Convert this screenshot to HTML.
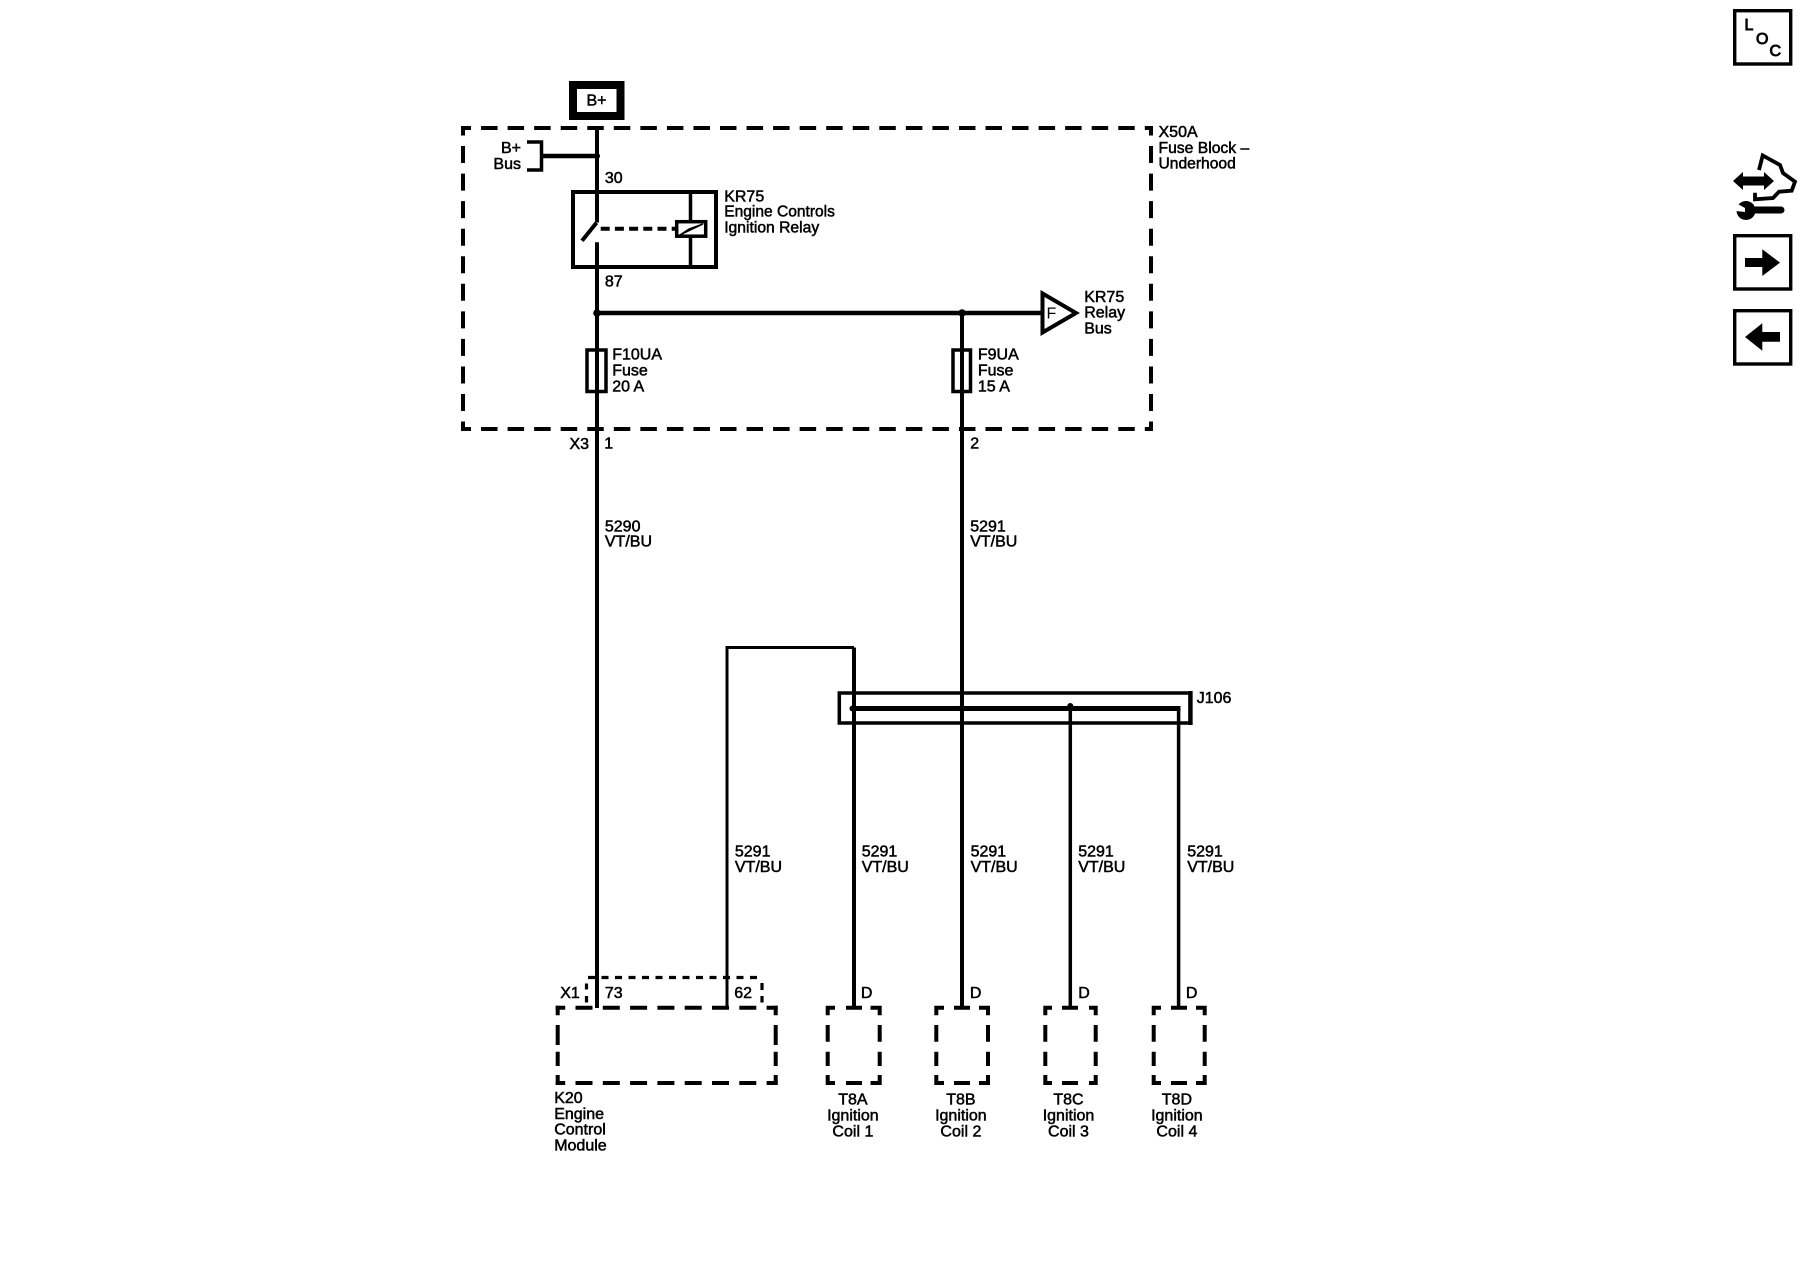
<!DOCTYPE html>
<html>
<head>
<meta charset="utf-8">
<title>Ignition Relay Schematic</title>
<style>
html,body{margin:0;padding:0;background:#fff;width:1800px;height:1280px;overflow:hidden}
svg{display:block}
text{font-family:"Liberation Sans",sans-serif;font-size:16px;fill:#000;stroke:#000;stroke-width:.5px}
.m{text-anchor:middle}
.e{text-anchor:end}
.b{stroke-width:.9px}
</style>
</head>
<body>
<svg width="1800" height="1280" viewBox="0 0 1800 1280" xmlns="http://www.w3.org/2000/svg">
<rect width="1800" height="1280" fill="#fff"/>

<!-- B+ box -->
<rect x="573" y="85" width="47.5" height="31" fill="#fff" stroke="#000" stroke-width="8"/>
<text x="586.5" y="105.5">B+</text>

<!-- X50A dashed enclosure -->
<g fill="none" stroke="#000" stroke-width="4">
<path d="M461 128H1153" stroke-dasharray="16.5 10.05" stroke-dashoffset="6.5"/>
<path d="M461 429H1153" stroke-dasharray="16.5 10.05" stroke-dashoffset="6.5"/>
<path d="M463 126V431" stroke-dasharray="17 10.55" stroke-dashoffset="7.5"/>
<path d="M1151 126V431" stroke-dasharray="17 10.55" stroke-dashoffset="7.5"/>
</g>

<!-- main wires -->
<g fill="none" stroke="#000" stroke-width="4">
<path d="M597 128V222.5"/>
<path d="M597 242.3V1008"/>
<path d="M962 313V1008"/>
<path d="M597 313H1043" stroke-width="4.5"/>
<path d="M543 156H597" stroke-width="4.5"/>
<path d="M527 142H541.5V170H527" stroke-width="3.5"/>
<path d="M854 647.5V1008" stroke-width="4"/>
<path d="M727 1008V647.5H854" stroke-width="3"/>
<path d="M1070.3 708.5V1008" stroke-width="3.5"/>
<path d="M1178.6 708.5V1008" stroke-width="3.5"/>
</g>
<circle cx="597" cy="156" r="3" fill="#000"/>
<circle cx="597" cy="313" r="3.8" fill="#000"/>
<circle cx="962" cy="313" r="3.8" fill="#000"/>

<!-- relay -->
<rect x="573" y="192" width="143" height="75" fill="none" stroke="#000" stroke-width="4"/>
<path d="M690.5 192V221M690.5 237V267" stroke="#000" stroke-width="3.5" fill="none"/>
<path d="M596.5 222.7L582 240.7" stroke="#000" stroke-width="4" fill="none"/>
<path d="M600.7 228.7H676" stroke="#000" stroke-width="4" stroke-dasharray="9 5.2" fill="none"/>
<rect x="676.7" y="221.7" width="29" height="14.5" fill="#fff" stroke="#000" stroke-width="3.5"/>
<polygon points="680,235 703,224 689,229" fill="#000" stroke="#000" stroke-width="1.5"/>

<!-- triangle -->
<polygon points="1042.5,293.5 1042.5,332.5 1076,313" fill="#fff" stroke="#000" stroke-width="4"/>
<text x="1046.5" y="318.5" style="stroke-width:0">F</text>

<!-- fuses -->
<rect x="587" y="350" width="19" height="41.5" fill="none" stroke="#000" stroke-width="3.5"/>
<rect x="953" y="350" width="17.5" height="41.5" fill="none" stroke="#000" stroke-width="3.5"/>

<!-- J106 splice -->
<rect x="839.3" y="693" width="350.7" height="30" fill="none" stroke="#000" stroke-width="3.5"/>
<path d="M1190.5 691V725" stroke="#000" stroke-width="4.3"/>
<path d="M852 708.5H1180.5" stroke="#000" stroke-width="5"/>
<circle cx="852.5" cy="708.5" r="3" fill="#000"/>
<circle cx="962" cy="708.5" r="3.5" fill="#000"/>
<circle cx="1070.3" cy="706" r="3" fill="#000"/>

<!-- X1 small dashed -->
<g fill="none" stroke="#000" stroke-width="3.2">
<path d="M588 977.5H762" stroke-dasharray="7 6.5"/>
<path d="M586.5 983.5V989.5M586.5 996V1002.5M762 983V990M762 996V1002.5"/>
</g>

<!-- K20 dashed box -->
<g fill="none" stroke="#000" stroke-width="4">
<path d="M555.7 1007.7H777.7" stroke-dasharray="17 10.3" stroke-dashoffset="7.5"/>
<path d="M555.7 1083H777.7" stroke-dasharray="17 10.3" stroke-dashoffset="7.5"/>
<path d="M557.7 1005.7V1015.3M557.7 1025V1045M557.7 1051.7V1066M557.7 1075V1085"/>
<path d="M775.7 1005.7V1015.3M775.7 1025V1045M775.7 1051.7V1066M775.7 1075V1085"/>

<!-- Coil boxes -->
<path d="M835 1007.7H827.7V1015.3M827.7 1025V1041.7M827.7 1051.7V1066M827.7 1075V1083H835M846 1083H862M846 1007.7H862M870.5 1007.7H879.7V1015.3M879.7 1025V1041.7M879.7 1051.7V1066M879.7 1075V1083H870.5"/>
<path d="M944 1007.7H936.3V1015.3M936.3 1025V1041.7M936.3 1051.7V1066M936.3 1075V1083H944M954 1083H970M954 1007.7H970M979 1007.7H988V1015.3M988 1025V1041.7M988 1051.7V1066M988 1075V1083H979"/>
<path d="M1052 1007.7H1045.3V1015.3M1045.3 1025V1041.7M1045.3 1051.7V1066M1045.3 1075V1083H1052M1062 1083H1078M1062 1007.7H1078M1089 1007.7H1095.7V1015.3M1095.7 1025V1041.7M1095.7 1051.7V1066M1095.7 1075V1083H1089"/>
<path d="M1161 1007.7H1153.7V1015.3M1153.7 1025V1041.7M1153.7 1051.7V1066M1153.7 1075V1083H1161M1171 1083H1187M1171 1007.7H1187M1196 1007.7H1204.7V1015.3M1204.7 1025V1041.7M1204.7 1051.7V1066M1204.7 1075V1083H1196"/>
</g>

<!-- labels -->
<text class="e" x="521" y="153">B+</text>
<text class="e" x="521" y="169">Bus</text>
<text x="569.5" y="449">X3</text>
<g transform="translate(-.8 -.4)">
<text x="605.7" y="183.5">30</text>
<text x="605.7" y="286.7">87</text>
<text x="725" y="201.7">KR75</text>
<text x="725" y="217" textLength="110.7" lengthAdjust="spacingAndGlyphs">Engine Controls</text>
<text x="725" y="233" textLength="95" lengthAdjust="spacingAndGlyphs">Ignition Relay</text>
<text x="1159.3" y="137.3">X50A</text>
<text x="1159.3" y="153.3" textLength="90.7" lengthAdjust="spacingAndGlyphs">Fuse Block –</text>
<text x="1159.3" y="169" textLength="77.3" lengthAdjust="spacingAndGlyphs">Underhood</text>
<text x="1085" y="302.3">KR75</text>
<text x="1085" y="318">Relay</text>
<text x="1085" y="334">Bus</text>
<text x="613" y="360">F10UA</text>
<text x="613" y="375.7">Fuse</text>
<text x="613" y="391.7">20 A</text>
<text x="978.7" y="360">F9UA</text>
<text x="978.7" y="375.7">Fuse</text>
<text x="978.7" y="391.7">15 A</text>
<text x="605" y="449">1</text>
<text x="971" y="449">2</text>
<text x="605.7" y="531.7">5290</text>
<text x="605.7" y="546.7">VT/BU</text>
<text x="971" y="531.7">5291</text>
<text x="971" y="546.7">VT/BU</text>
<text x="1197.5" y="703.5">J106</text>
<text x="735.7" y="857">5291</text>
<text x="735.7" y="872.5">VT/BU</text>
<text x="862.5" y="857">5291</text>
<text x="862.5" y="872.5">VT/BU</text>
<text x="971.4" y="857">5291</text>
<text x="971.4" y="872.5">VT/BU</text>
<text x="1079" y="857">5291</text>
<text x="1079" y="872.5">VT/BU</text>
<text x="1188" y="857">5291</text>
<text x="1188" y="872.5">VT/BU</text>
<text x="561" y="998.3">X1</text>
<text x="605.7" y="998.3">73</text>
<text x="735" y="998.3">62</text>
<text x="861.7" y="998.3">D</text>
<text x="970.7" y="998.3">D</text>
<text x="1079" y="998.3">D</text>
<text x="1186.7" y="998.3">D</text>
<text x="555" y="1103.3">K20</text>
<text x="555" y="1119.3">Engine</text>
<text x="555" y="1135">Control</text>
<text x="555" y="1150.7">Module</text>
<text class="m" x="853.7" y="1105">T8A</text>
<text class="m" x="853.7" y="1121">Ignition</text>
<text class="m" x="853.7" y="1136.7">Coil 1</text>
<text class="m" x="961.7" y="1105">T8B</text>
<text class="m" x="961.7" y="1121">Ignition</text>
<text class="m" x="961.7" y="1136.7">Coil 2</text>
<text class="m" x="1069.3" y="1105">T8C</text>
<text class="m" x="1069.3" y="1121">Ignition</text>
<text class="m" x="1069.3" y="1136.7">Coil 3</text>
<text class="m" x="1177.7" y="1105">T8D</text>
<text class="m" x="1177.7" y="1121">Ignition</text>
<text class="m" x="1177.7" y="1136.7">Coil 4</text>
</g>

<!-- LOC box -->
<rect x="1734.7" y="10.7" width="56" height="53.3" fill="none" stroke="#000" stroke-width="3.4"/>
<text class="b" x="1744.5" y="30">L</text>
<text class="b" x="1756" y="44">O</text>
<text class="b" x="1769.5" y="56">C</text>

<!-- tool icon -->
<polygon points="1733,181 1743,172 1743,176.5 1764,176.5 1764,172 1774,181 1764,190 1764,185.5 1743,185.5 1743,190" fill="#000"/>
<path d="M1759 170L1762.7 155.5L1780 165L1783 173L1795 181.7L1791.7 190.7L1779 191.7L1773 198L1755 199.3L1755 192.7" fill="none" stroke="#000" stroke-width="3.8"/>
<path d="M1750 210H1781" stroke="#000" stroke-width="7" stroke-linecap="round"/>
<circle cx="1746" cy="210.5" r="9.5" fill="#000"/>
<polygon points="1736,203 1745,208 1745,212 1736,211" fill="#fff"/>

<!-- arrow buttons -->
<rect x="1734.7" y="235.7" width="56" height="53.3" fill="none" stroke="#000" stroke-width="3.4"/>
<polygon points="1745,258 1762.3,258 1762.3,249.3 1780,262.6 1762.3,276 1762.3,267 1745,267" fill="#000"/>
<rect x="1734.7" y="310.7" width="56" height="53.3" fill="none" stroke="#000" stroke-width="3.4"/>
<polygon points="1780,332 1762.3,332 1762.3,323.3 1745,337 1762.3,350.7 1762.3,341.7 1780,341.7" fill="#000"/>
</svg>
</body>
</html>
